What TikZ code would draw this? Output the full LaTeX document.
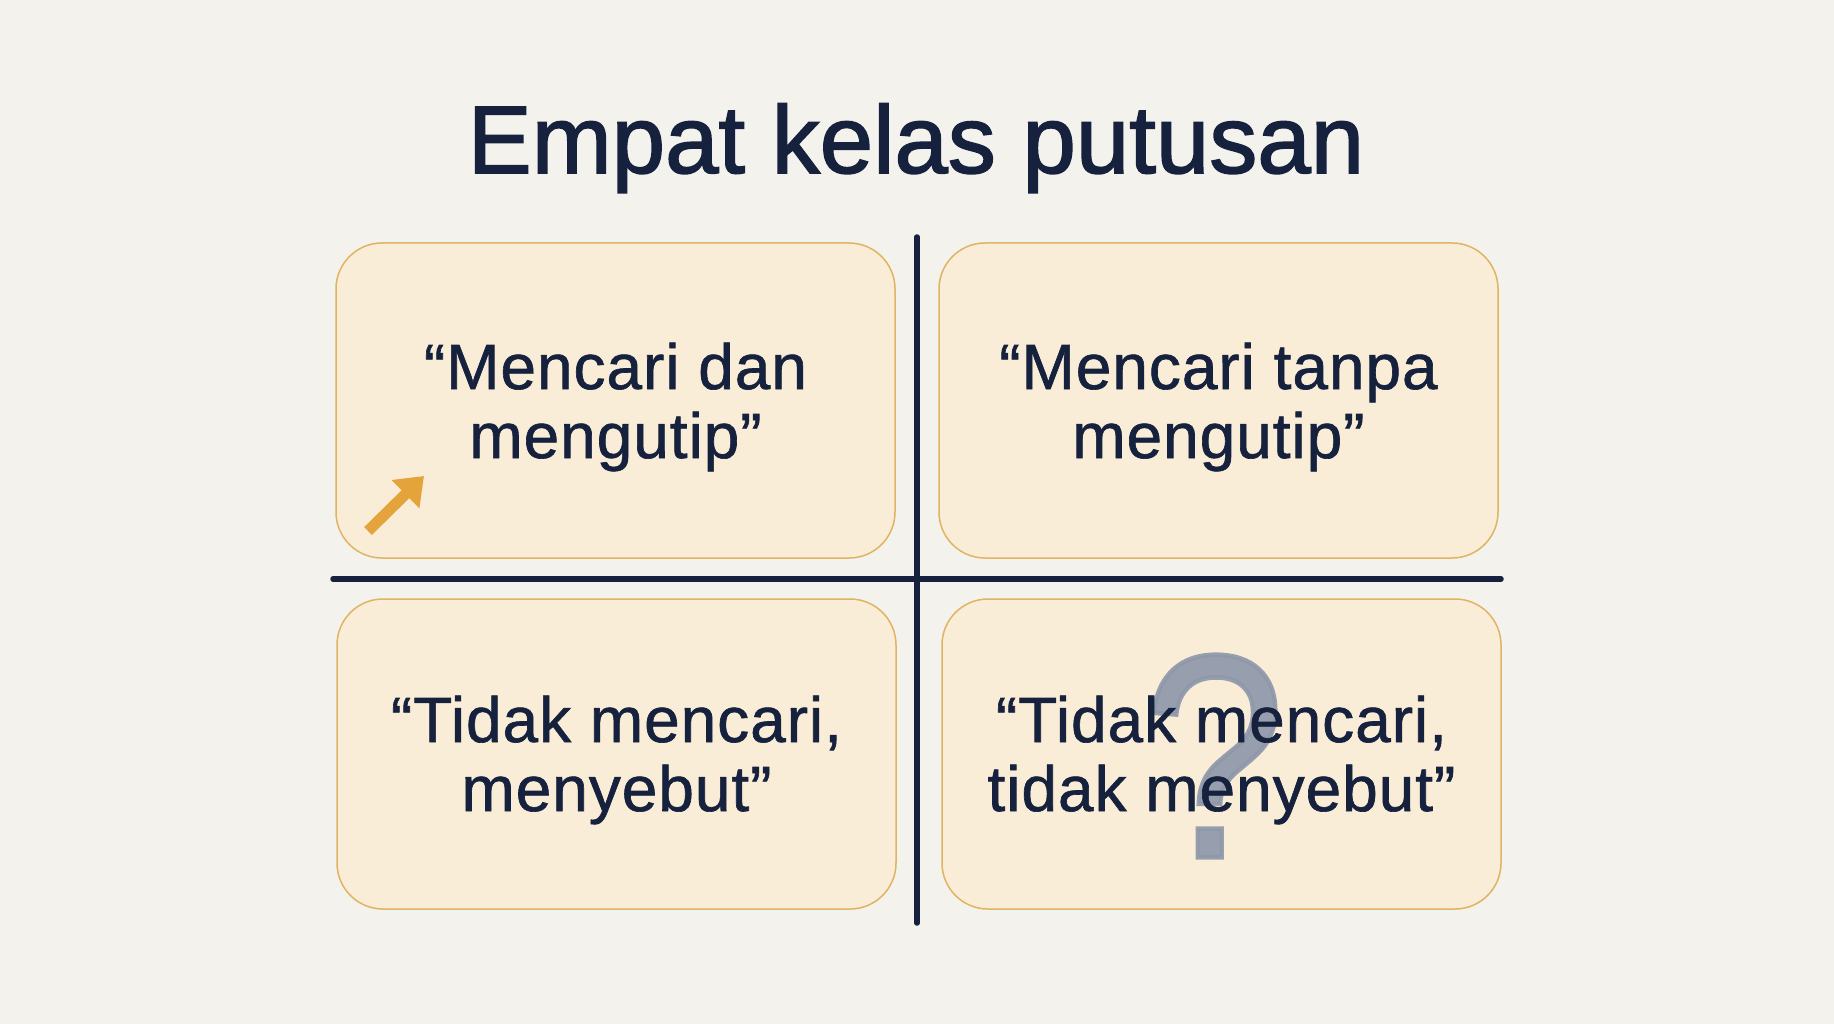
\documentclass[tikz,border=0pt]{standalone}
\usepackage{fontspec}
\usepackage{graphicx}
\setmainfont{Liberation Sans}
\newfontfamily\titlefont[FakeBold=1.6]{Liberation Sans}
\newfontfamily\quadfont[FakeBold=1.0, LetterSpace=1.5]{Liberation Sans}
\usetikzlibrary{arrows.meta}
\definecolor{bg}{HTML}{F4F2EC}
\definecolor{boxfill}{HTML}{FAEDD7}
\definecolor{boxline}{HTML}{E0B462}
\definecolor{navy}{HTML}{15213D}
\definecolor{orangearr}{HTML}{E5A33B}
\definecolor{qgray}{HTML}{8F98AA}
\tikzset{
  quad/.style={draw=boxline, line width=1.5pt, fill=boxfill, rounded corners=46pt},
  quadtext/.style={text=navy, align=center, font=\quadfont\fontsize{64}{69}\selectfont},
  axis/.style={draw=navy, line width=5.5pt, line cap=round},
}
\begin{document}
\begin{tikzpicture}[x=1pt,y=-1pt]
\useasboundingbox[fill=bg] (0,0) rectangle (1834,1024);
% title
\node[anchor=base, text=navy, font=\titlefont\fontsize{96}{100}\selectfont] (title) at (916,173) {Empat kelas putusan};
% boxes
\path[quad] (336,243) rectangle (895,558);
\path[quad] (939,243) rectangle (1498,558);
\path[quad] (337,599) rectangle (896,909);
\path[quad] (942,599) rectangle (1501,909);
% axes
\coordinate (vt) at (917,237);
\coordinate (vb) at (917,923);
\coordinate (hl) at (333,579);
\coordinate (hr) at (1501,579);
\draw[axis] (vt) -- (vb);
\draw[axis] (hl) -- (hr);
% question mark
\node[text=qgray, opacity=0.92, font=\titlefont\fontsize{290}{290}\selectfont] (qm) at (1214,756) {\scalebox{0.88}[1]{?}};
% texts
\node[quadtext] (t1) at (615.5,407) {“Mencari dan\\mengutip”};
\node[quadtext] (t2) at (1218.5,407) {“Mencari tanpa\\mengutip”};
\node[quadtext] (t3) at (616.5,760) {“Tidak mencari,\\menyebut”};
\node[quadtext] (t4) at (1221.5,760) {“Tidak mencari,\\tidak menyebut”};
% arrow
\coordinate (a1) at (368,531);
\coordinate (a2) at (424,476);
\draw[orangearr, line width=11pt, -{Triangle[length=26pt,width=38pt]}] (a1) -- (a2);
\end{tikzpicture}
\end{document}
